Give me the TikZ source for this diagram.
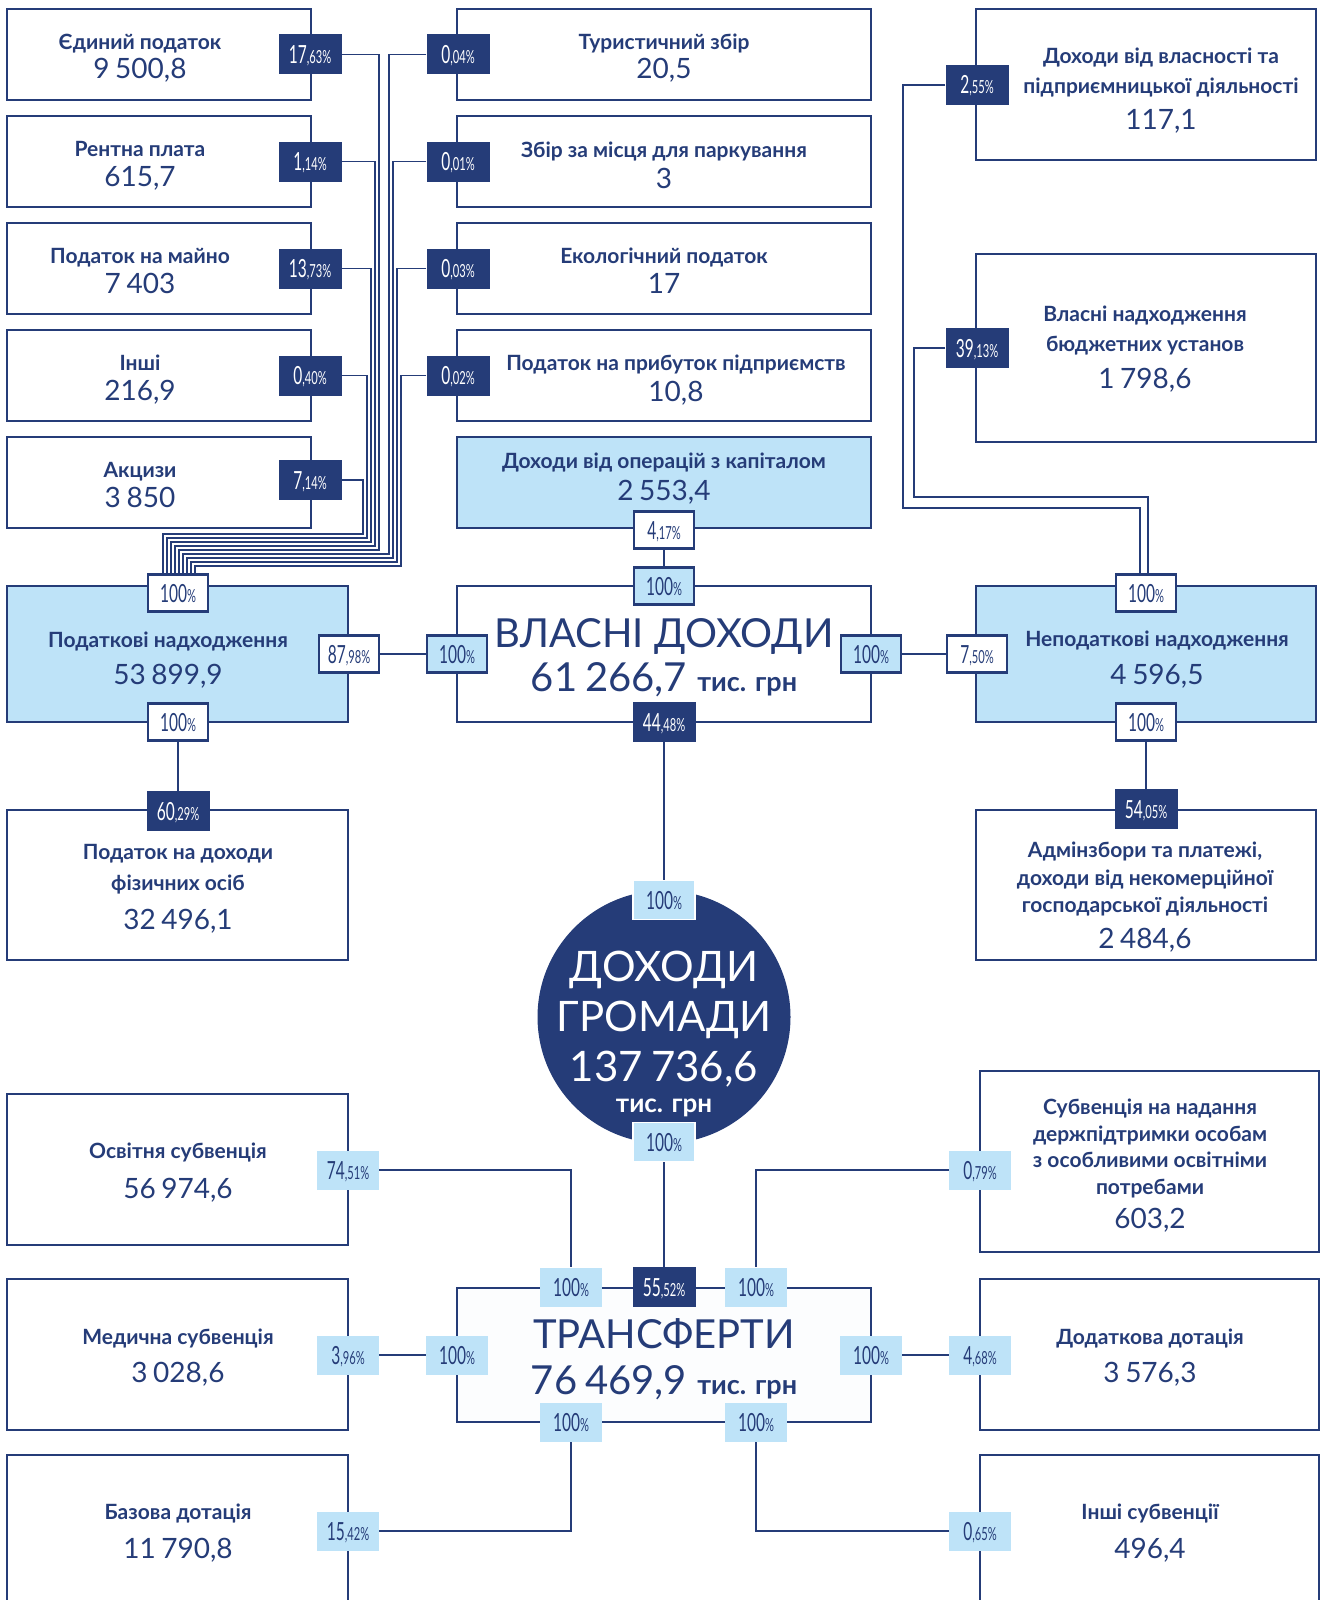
\documentclass[tikz,border=0pt]{standalone}
\usepackage{fontspec}
\setmainfont{Lato}
\usepackage{graphicx}
\definecolor{navy}{HTML}{253C78}
\definecolor{lblue}{HTML}{BEE3F8}
\definecolor{tfill}{HTML}{FCFDFE}
\newcommand{\ts}{\hspace{0.2em}}
\newcommand{\pc}[2]{\scalebox{0.62}[1]{\fontsize{25pt}{25pt}\selectfont #1\fontsize{18pt}{18pt}\selectfont #2}}
\newcommand{\tgrn}{{\bfseries\fontsize{27pt}{27pt}\selectfont тис. грн}}
\tikzset{
 bx/.style={draw=navy, line width=2.6pt, fill=white, inner sep=0pt},
 lbx/.style={bx, fill=lblue},
 ttl/.style={text=navy, font=\fontsize{21pt}{21pt}\selectfont\bfseries, inner sep=0pt, anchor=base, yshift=-7.5pt},
 nm/.style={text=navy, font=\fontsize{28pt}{28pt}\selectfont, inner sep=0pt, anchor=base, yshift=-10pt},
 big/.style={text=navy, font=\fontsize{40pt}{40pt}\selectfont, inner sep=0pt, anchor=base, yshift=-14.4pt},
 cw/.style={text=white, font=\fontsize{42pt}{42pt}\selectfont, inner sep=0pt, anchor=base, yshift=-15.1pt},
 pctbox/.style={inner sep=0pt, minimum width=63pt, minimum height=40pt, text height=18pt, text depth=0pt},
 pd/.style={pctbox, fill=navy, text=white},
 pw/.style={pctbox, fill=white, draw=navy, line width=2.4pt, minimum width=60pt, minimum height=37pt, text=navy},
 pl/.style={pw, fill=lblue},
 pb/.style={pctbox, fill=lblue, text=navy, minimum width=62pt, minimum height=39pt},
 conn/.style={draw=navy, line width=1.6pt},
}
\begin{document}
\begin{tikzpicture}[x=1pt,y=-1pt]
\useasboundingbox (0,0) rectangle (1327,1600);
\clip (0,0) rectangle (1327,1600);
% ---------- boxes ----------
\node[bx, minimum width=304pt, minimum height=91pt] (bep) at (159,54.5) {};
\node[bx, minimum width=304pt, minimum height=91pt] (brp) at (159,161.5) {};
\node[bx, minimum width=304pt, minimum height=91pt] (bpm) at (159,268.5) {};
\node[bx, minimum width=304pt, minimum height=91pt] (bin) at (159,375.5) {};
\node[bx, minimum width=304pt, minimum height=91pt] (bak) at (159,482.5) {};
\node[bx, minimum width=414pt, minimum height=91pt] (btz) at (664,54.5) {};
\node[bx, minimum width=414pt, minimum height=91pt] (bzp) at (664,161.5) {};
\node[bx, minimum width=414pt, minimum height=91pt] (bek) at (664,268.5) {};
\node[bx, minimum width=414pt, minimum height=91pt] (bpp) at (664,375.5) {};
\node[lbx, minimum width=414pt, minimum height=91pt] (bdk) at (664,482.5) {};
\node[bx, minimum width=340pt, minimum height=151pt] (bdv) at (1146,84.5) {};
\node[bx, minimum width=340pt, minimum height=188pt] (bvn) at (1146,348) {};
\node[lbx, minimum width=340pt, minimum height=136pt] (bnp) at (1146,654) {};
\node[bx, minimum width=340pt, minimum height=150pt] (bad) at (1146,885) {};
\node[lbx, minimum width=341pt, minimum height=136pt] (bpn) at (177.5,654) {};
\node[bx, minimum width=414pt, minimum height=136pt] (bvd) at (664,654) {};
\node[bx, minimum width=341pt, minimum height=150pt] (bpd) at (177.5,885) {};
\node[circle, fill=navy, minimum size=253pt, inner sep=0pt] (cg) at (664,1017) {};
\node[bx, fill=tfill, line width=2pt, minimum width=414pt, minimum height=134pt] (btr) at (664,1354.5) {};
\node[bx, minimum width=341pt, minimum height=151pt] (bos) at (177.5,1169.5) {};
\node[bx, minimum width=341pt, minimum height=151pt] (bmd) at (177.5,1354.5) {};
\node[bx, minimum width=341pt, minimum height=190pt] (bbz) at (177.5,1550) {};
\node[bx, minimum width=339pt, minimum height=181pt] (bsb) at (1149.5,1161.5) {};
\node[bx, minimum width=339pt, minimum height=151pt] (bdd) at (1149.5,1354.5) {};
\node[bx, minimum width=339pt, minimum height=190pt] (bis) at (1149.5,1550) {};
% ---------- percentage labels ----------
\node[pd] (pep) at (310,54.5) {\pc{17}{,63\%}};
\node[pd] (prp) at (310,161.5) {\pc{1}{,14\%}};
\node[pd] (ppm) at (310,268.5) {\pc{13}{,73\%}};
\node[pd] (pin) at (310,375.5) {\pc{0}{,40\%}};
\node[pd] (pak) at (310,480) {\pc{7}{,14\%}};
\node[pd] (ptz) at (458,54.5) {\pc{0}{,04\%}};
\node[pd] (pzp) at (458,161.5) {\pc{0}{,01\%}};
\node[pd] (pek) at (458,268.5) {\pc{0}{,03\%}};
\node[pd] (ppp) at (458,375.5) {\pc{0}{,02\%}};
\node[pw] (pdk) at (664,530) {\pc{4}{,17\%}};
\node[pd] (pdv) at (977,85) {\pc{2}{,55\%}};
\node[pd] (pvn) at (977,348) {\pc{39}{,13\%}};
\node[pw] (pnt) at (1146,593) {\pc{100}{\%}};
\node[pw] (pnl) at (977,654) {\pc{7}{,50\%}};
\node[pw] (pnb) at (1146,722) {\pc{100}{\%}};
\node[pd] (pad) at (1146,809) {\pc{54}{,05\%}};
\node[pw] (ppt) at (178,593) {\pc{100}{\%}};
\node[pw] (ppr) at (349,654) {\pc{87}{,98\%}};
\node[pw] (ppb) at (178,722) {\pc{100}{\%}};
\node[pd] (ppd) at (178,811) {\pc{60}{,29\%}};
\node[pl] (pvt) at (664,586) {\pc{100}{\%}};
\node[pl] (pvl) at (457,654) {\pc{100}{\%}};
\node[pl] (pvr) at (871,654) {\pc{100}{\%}};
\node[pd] (pvb) at (664,722) {\pc{44}{,48\%}};
\node[pb, draw=white, line width=1.5pt] (pcirt) at (664,900) {\pc{100}{\%}};
\node[pb, draw=white, line width=1.5pt] (pcirb) at (664,1142) {\pc{100}{\%}};
\node[pb] (ptl) at (571,1287) {\pc{100}{\%}};
\node[pd] (ptc) at (664,1287) {\pc{55}{,52\%}};
\node[pb] (ptr) at (756,1287) {\pc{100}{\%}};
\node[pb] (ptL) at (457,1355) {\pc{100}{\%}};
\node[pb] (ptR) at (871,1355) {\pc{100}{\%}};
\node[pb] (pbl) at (571,1422) {\pc{100}{\%}};
\node[pb] (pbr) at (756,1422) {\pc{100}{\%}};
\node[pb] (pos) at (348,1170) {\pc{74}{,51\%}};
\node[pb] (pmd) at (348,1355) {\pc{3}{,96\%}};
\node[pb] (pbz) at (348,1531) {\pc{15}{,42\%}};
\node[pb] (psb) at (980,1170) {\pc{0}{,79\%}};
\node[pb] (pdd) at (980,1355) {\pc{4}{,68\%}};
\node[pb] (pis) at (980,1531) {\pc{0}{,65\%}};
% ---------- connectors ----------
\foreach \p/\i in {pak/0,pin/1,ppm/2,prp/3,pep/4}{
  \coordinate (bl\i) at ({163+4*\i},0);
  \draw[conn] (\p.east) -| ({363+4*\i},{534+4*\i}) -| (ppt.north -| bl\i);
}
\foreach \p/\i in {ptz/5,pzp/6,pek/7,ppp/8}{
  \coordinate (bl\i) at ({163+4*\i},0);
  \draw[conn] (\p.west) -| ({389+4*(\i-5)},{534+4*\i}) -| (ppt.north -| bl\i);
}
\coordinate (rb1) at (1140,0);
\coordinate (rb2) at (1148,0);
\draw[conn] (pdv.west) -| (903,508) -| (pnt.north -| rb1);
\draw[conn] (pvn.west) -| (914,497) -| (pnt.north -| rb2);
\draw[conn] (pdk.south) -- (pvt.north);
\draw[conn] (ppr.east) -- (pvl.west);
\draw[conn] (pvr.east) -- (pnl.west);
\draw[conn] (ppb.south) -- (ppd.north);
\draw[conn] (pnb.south) -- (pad.north);
\draw[conn] (pvb.south) -- (pcirt.north);
\draw[conn] (pcirb.south) -- (ptc.north);
\draw[conn] (pos.east) -| (ptl.north);
\draw[conn] (pmd.east) -- (ptL.west);
\draw[conn] (pbz.east) -| (pbl.south);
\draw[conn] (psb.west) -| (ptr.north);
\draw[conn] (pdd.west) -- (ptR.east);
\draw[conn] (pis.west) -| (pbr.south);
% ---------- texts ----------
\node[ttl] (tep1) at (140,42) {Єдиний податок};
\node[nm]  (tep2) at (140,69) {9\ts500,8};
\node[ttl] (trp1) at (140,149) {Рентна плата};
\node[nm]  (trp2) at (140,176) {615,7};
\node[ttl] (tpm1) at (140,256) {Податок на майно};
\node[nm]  (tpm2) at (140,283) {7\ts403};
\node[ttl] (tin1) at (140,363) {Інші};
\node[nm]  (tin2) at (140,390) {216,9};
\node[ttl] (tak1) at (140,470) {Акцизи};
\node[nm]  (tak2) at (140,497) {3\ts850};
\node[ttl] (ttz1) at (664,42) {Туристичний збір};
\node[nm]  (ttz2) at (664,69) {20,5};
\node[ttl] (tzp1) at (664,150) {Збір за місця для паркування};
\node[nm]  (tzp2) at (664,178) {3};
\node[ttl] (tek1) at (664,256) {Екологічний податок};
\node[nm]  (tek2) at (664,283) {17};
\node[ttl] (tpp1) at (676,363) {Податок на прибуток підприємств};
\node[nm]  (tpp2) at (676,391) {10,8};
\node[ttl] (tdk1) at (664,461) {Доходи від операцій з капіталом};
\node[nm]  (tdk2) at (664,490) {2\ts553,4};
\node[ttl] (tdv1) at (1161,56) {Доходи від власності та};
\node[ttl] (tdv2) at (1161,86) {підприємницької діяльності};
\node[nm]  (tdv3) at (1161,119) {117,1};
\node[ttl] (tvn1) at (1145,314) {Власні надходження};
\node[ttl] (tvn2) at (1145,344) {бюджетних установ};
\node[nm]  (tvn3) at (1145,378) {1\ts798,6};
\node[ttl] (tnp1) at (1157,639) {Неподаткові надходження};
\node[nm]  (tnp2) at (1157,674) {4\ts596,5};
\node[ttl] (tad1) at (1145,850) {Адмінзбори та платежі,};
\node[ttl] (tad2) at (1145,878) {доходи від некомерційної};
\node[ttl] (tad3) at (1145,905) {господарської діяльності};
\node[nm]  (tad4) at (1145,938) {2\ts484,6};
\node[ttl] (tpn1) at (168,640) {Податкові надходження};
\node[nm]  (tpn2) at (168,674) {53\ts899,9};
\node[ttl] (tpd1) at (178,852) {Податок на доходи};
\node[ttl] (tpd2) at (178,883) {фізичних осіб};
\node[nm]  (tpd3) at (178,919) {32\ts496,1};
\node[big] (tvd1) at (664,633) {ВЛАСНІ ДОХОДИ};
\node[big] (tvd2) at (664,677) {61\ts266,7 \tgrn};
\node[cw]  (tc1) at (664,966) {ДОХОДИ};
\node[cw]  (tc2) at (664,1016) {ГРОМАДИ};
\node[cw]  (tc3) at (664,1066) {137\ts736,6};
\node[text=white, font=\fontsize{26pt}{26pt}\selectfont\bfseries, inner sep=0pt, anchor=base, yshift=-9pt] (tc4) at (664,1103) {тис. грн};
\node[big] (ttr1) at (664,1334) {ТРАНСФЕРТИ};
\node[big] (ttr2) at (664,1380) {76\ts469,9 \tgrn};
\node[ttl] (tos1) at (178,1151) {Освітня субвенція};
\node[nm]  (tos2) at (178,1188) {56\ts974,6};
\node[ttl] (tmd1) at (178,1337) {Медична субвенція};
\node[nm]  (tmd2) at (178,1372) {3\ts028,6};
\node[ttl] (tbz1) at (178,1512) {Базова дотація};
\node[nm]  (tbz2) at (178,1548) {11\ts790,8};
\node[ttl] (tsb1) at (1150,1107) {Субвенція на надання};
\node[ttl] (tsb2) at (1150,1134) {держпідтримки особам};
\node[ttl] (tsb3) at (1150,1160) {з особливими освітніми};
\node[ttl] (tsb4) at (1150,1187) {потребами};
\node[nm]  (tsb5) at (1150,1218) {603,2};
\node[ttl] (tdd1) at (1150,1337) {Додаткова дотація};
\node[nm]  (tdd2) at (1150,1372) {3\ts576,3};
\node[ttl] (tis1) at (1150,1512) {Інші субвенції};
\node[nm]  (tis2) at (1150,1548) {496,4};
\end{tikzpicture}
\end{document}
